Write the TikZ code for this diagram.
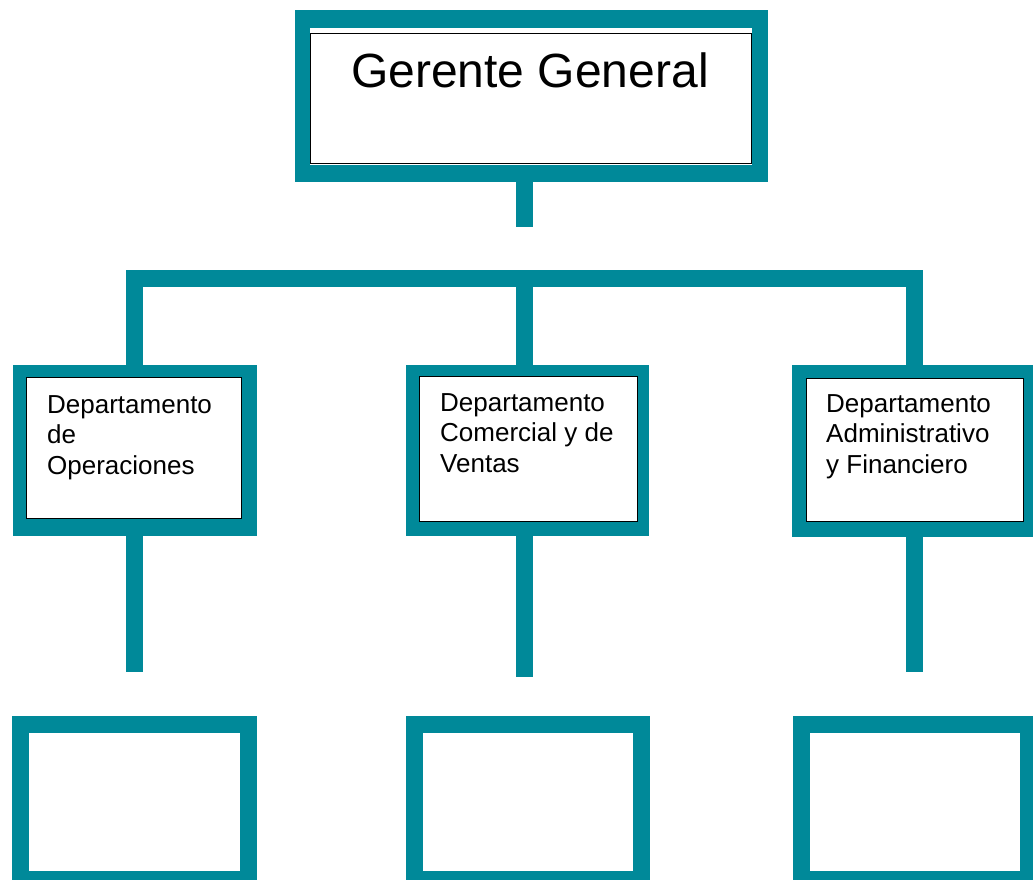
\documentclass[tikz,border=0pt]{standalone}
\usepackage{fontspec}
\setmainfont{Liberation Sans}
\definecolor{teal0}{RGB}{0,137,153}
\begin{document}
\begin{tikzpicture}[x=1pt,y=-1pt,
 frame/.style={rectangle,fill=teal0,inner sep=0pt,outer sep=0pt},
 gap/.style={rectangle,fill=white,inner sep=0pt,outer sep=0pt},
 card/.style={rectangle,fill=white,draw=black,line width=0.8pt,inner sep=0pt,outer sep=0pt},
 hollow/.style={rectangle,draw=teal0,line width=17pt,fill=white,inner sep=0pt,outer sep=0pt},
 link/.style={draw=teal0,line width=17pt},
 dept/.style={anchor=base west,inner sep=0pt,font=\fontsize{26}{30.5}\selectfont}
]
\useasboundingbox (0,0) rectangle (1033,880);
\clip (0,0) rectangle (1033,880);

% top
\node[frame,minimum width=473pt,minimum height=172pt] (gf) at (531.5,96) {};
\node[gap,minimum width=442pt,minimum height=137pt] (gi) at (531,96.5) {};
\node[card,minimum width=441pt,minimum height=130pt] (g) at (530.5,98) {};
\node[anchor=base,inner sep=0pt,font=\fontsize{48}{56}\selectfont] (gt) at (530,88) {Gerente General};

\coordinate (s0) at (524.5,227);
\draw[link] (s0 |- gf.south) -- (s0);

% departments
\node[frame,minimum width=244pt,minimum height=171pt] (df1) at (135,450.5) {};
\node[card,minimum width=215pt,minimum height=141pt] (d1) at (133.5,447.5) {};
\node[frame,minimum width=243pt,minimum height=171pt] (df2) at (527.5,450.5) {};
\node[card,minimum width=218pt,minimum height=145pt] (d2) at (528,448.5) {};
\node[frame,minimum width=244pt,minimum height=172pt] (df3) at (914,451) {};
\node[card,minimum width=217pt,minimum height=143pt] (d3) at (914.5,449.5) {};

\node[dept] (t1) at (47,413) {\begin{tabular}[t]{@{}l@{}}Departamento\\de\\Operaciones\end{tabular}};
\node[dept] (t2) at (440,411) {\begin{tabular}[t]{@{}l@{}}Departamento\\Comercial y de\\Ventas\end{tabular}};
\node[dept] (t3) at (826,412) {\begin{tabular}[t]{@{}l@{}}Departamento\\Administrativo\\y Financiero\end{tabular}};

% bar
\coordinate (j1) at (134.5,278.5);
\coordinate (j2) at (524.5,278.5);
\coordinate (j3) at (914.5,278.5);
\draw[link] (j1 |- df1.north) -- (j1) -- (j3) -- (j3 |- df3.north);
\draw[link] (j2) -- (j2 |- df2.north);

% lower stems
\coordinate (e1) at (134,672);
\coordinate (e2) at (524.5,677);
\coordinate (e3) at (914.5,672);
\draw[link] (e1 |- df1.south) -- (e1);
\draw[link] (e2 |- df2.south) -- (e2);
\draw[link] (e3 |- df3.south) -- (e3);

% bottom empty boxes
\node[hollow,minimum width=227.5pt,minimum height=155pt] (b1) at (134.25,801.5) {};
\node[hollow,minimum width=226.5pt,minimum height=155pt] (b2) at (527.75,802) {};
\node[hollow,minimum width=227.5pt,minimum height=155pt] (b3) at (914.75,802) {};
\end{tikzpicture}
\end{document}
